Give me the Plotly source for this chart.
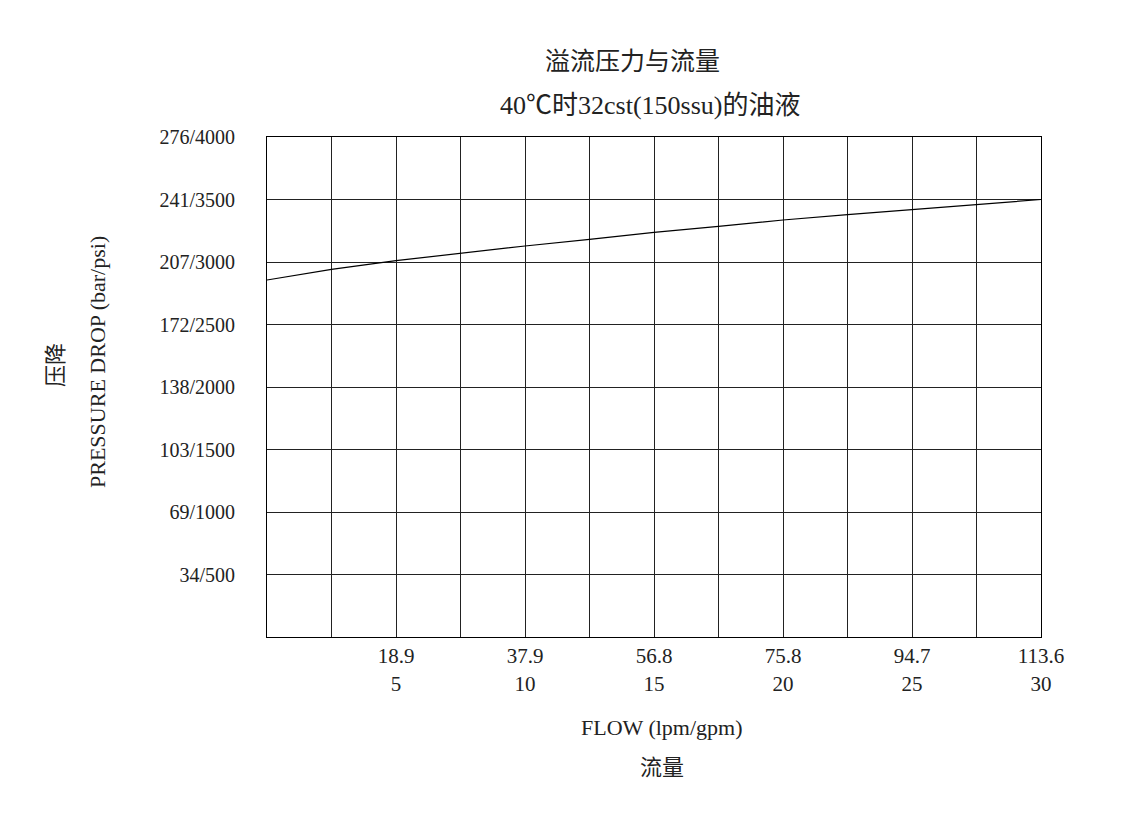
import plotly.graph_objects as go

# Flow (gpm) vs relief pressure (psi)
flow_gpm = [0, 2.5, 5, 7.5, 10, 12.5, 15, 17.5, 20, 22.5, 25, 27.5, 30]
pressure_psi = [2856, 2941, 3011, 3072, 3128, 3181, 3237, 3285, 3336, 3379, 3421, 3461, 3500]

# x tick labels: lpm on top, gpm below
x_gpm_ticks = [5, 10, 15, 20, 25, 30]
x_lpm_labels = ["18.9", "37.9", "56.8", "75.8", "94.7", "113.6"]

# y tick labels bar/psi
y_psi_ticks = [500, 1000, 1500, 2000, 2500, 3000, 3500, 4000]
y_labels = ["34/500", "69/1000", "103/1500", "138/2000", "172/2500", "207/3000", "241/3500", "276/4000"]

FONT = "Liberation Serif, Noto Sans CJK SC, serif"
TXT = "#222"

# grid every 2.5 gpm, labels only every 5 gpm
x_grid = [i * 2.5 for i in range(13)]
x_text = []
for v in x_grid:
    if v in x_gpm_ticks:
        k = x_gpm_ticks.index(v)
        x_text.append(x_lpm_labels[k] + "<br>" + str(int(v)))
    else:
        x_text.append("")

fig = go.Figure()
fig.add_trace(go.Scatter(x=flow_gpm, y=pressure_psi, mode="lines",
                         line=dict(color="black", width=1.2), showlegend=False))

fig.update_xaxes(range=[0, 30], tickvals=x_grid, ticktext=x_text,
                 showgrid=True, gridcolor="#222", gridwidth=1,
                 showline=True, linecolor="black", linewidth=1, mirror=True,
                 zeroline=False, ticks="", tickangle=0,
                 tickfont=dict(family=FONT, size=21, color=TXT))
fig.update_yaxes(range=[0, 4000], tickvals=y_psi_ticks, ticktext=y_labels,
                 showgrid=True, gridcolor="#222", gridwidth=1,
                 showline=True, linecolor="black", linewidth=1, mirror=True,
                 zeroline=False, ticks="outside", ticklen=27, tickcolor="white",
                 tickfont=dict(family=FONT, size=20, color=TXT))

# plot area is 774 x 500 px; positions below are px offsets from it
def ann(text, px, py, size, angle=0):
    fig.add_annotation(text=text, x=px / 774, y=py / 500, xref="paper", yref="paper",
                       xanchor="center", yanchor="middle", textangle=angle,
                       showarrow=False, font=dict(family=FONT, size=size, color=TXT))

ann("溢流压力与流量", 365, 500 + 76, 25)
ann("40℃时32cst(150ssu)的油液", 383, 500 + 31, 26)
ann("FLOW (lpm/gpm)", 395, -90, 22)
ann("流量", 395, -130, 22)
ann("压降", 55 - 267, 500 - 365 + 137, 22, -90)
ann("PRESSURE DROP (bar/psi)", 97 - 267, 500 - 362 + 137, 22, -90)

fig.update_layout(width=1132, height=817, plot_bgcolor="white", paper_bgcolor="white",
                  margin=dict(l=259, r=99, t=129, b=188), showlegend=False)

fig.write_html("out.html")
